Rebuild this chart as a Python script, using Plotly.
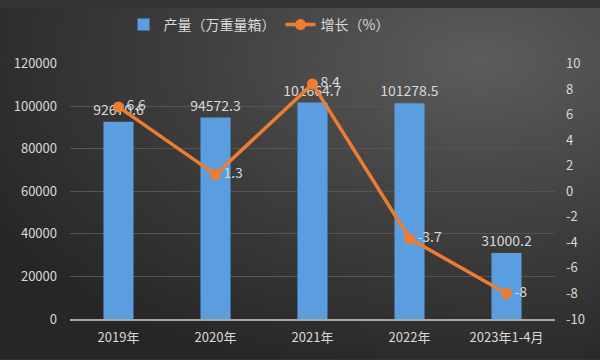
import base64
import plotly.graph_objects as go

categories = ["2019年", "2020年", "2021年", "2022年", "2023年1-4月"]
output = [92670.6, 94572.3, 101664.7, 101278.5, 31000.2]
growth = [6.6, 1.3, 8.4, -3.7, -8]
left_ticks = [0, 20000, 40000, 60000, 80000, 100000, 120000]
right_ticks = [-10, -8, -6, -4, -2, 0, 2, 4, 6, 8, 10]

FONT = "Noto Sans CJK SC"
TXT = "#d9d9d9"

svg = """<svg xmlns='http://www.w3.org/2000/svg' width='600' height='360'>
<defs><radialGradient id='g' cx='0.8' cy='0.15' r='0.95' gradientUnits='objectBoundingBox'>
<stop offset='0' stop-color='#5c5c5c'/><stop offset='0.55' stop-color='#3c3c3c'/><stop offset='1' stop-color='#262626'/>
</radialGradient></defs><rect width='600' height='360' fill='url(#g)'/></svg>"""
bg_src = "data:image/svg+xml;base64," + base64.b64encode(svg.encode()).decode()

fig = go.Figure()
fig.add_trace(go.Bar(
    x=categories, y=output, name="产量（万重量箱）",
    marker=dict(color="#5b9ee0", line=dict(width=0)),
    width=0.31,
    text=[f"{v:.1f}" for v in output], textposition="outside",
    constraintext="none",
    textfont=dict(color=TXT, size=14, family=FONT),
    cliponaxis=False,
))
fig.add_trace(go.Scatter(
    x=categories, y=growth, name="增长（%）", yaxis="y2",
    mode="lines+markers+text",
    line=dict(color="#ed7d31", width=3.5),
    marker=dict(color="#ed7d31", size=11),
    text=[str(v) for v in growth], textposition="middle right",
    textfont=dict(color=TXT, size=14, family=FONT),
    cliponaxis=False,
))

fig.add_layout_image(dict(source=bg_src, xref="paper", yref="paper",
                          x=-70/485, y=1 + 57/262, sizex=600/485, sizey=360/262,
                          xanchor="left", yanchor="top", sizing="stretch", layer="below"))

fig.update_layout(
    width=600, height=360,
    margin=dict(l=70, r=45, t=57, b=41),
    paper_bgcolor="#333333", plot_bgcolor="rgba(0,0,0,0)",
    font=dict(family=FONT, color=TXT, size=13),
    showlegend=True,
    legend=dict(orientation="h", x=259/600, xanchor="center", xref="container",
                y=1 - 25/360, yanchor="middle", yref="container",
                font=dict(size=14, color=TXT), bgcolor="rgba(0,0,0,0)"),
    xaxis=dict(showgrid=False, showline=True, linecolor="#a6a6a6", linewidth=1.5,
               ticks="", ticklabelstandoff=6, tickfont=dict(size=13, color=TXT)),
    yaxis=dict(range=[0, 120000], tickvals=left_ticks, ticktext=[str(v) for v in left_ticks],
               gridcolor="#555555", gridwidth=1, ticklabelstandoff=12,
               zeroline=False, tickfont=dict(size=13, color=TXT), ticks=""),
    yaxis2=dict(range=[-10, 10], tickvals=right_ticks, ticktext=[str(v) for v in right_ticks],
                overlaying="y", side="right", ticklabelstandoff=10,
                showgrid=False, zeroline=False, tickfont=dict(size=13, color=TXT), ticks=""),
)

fig.write_html("out.html")
